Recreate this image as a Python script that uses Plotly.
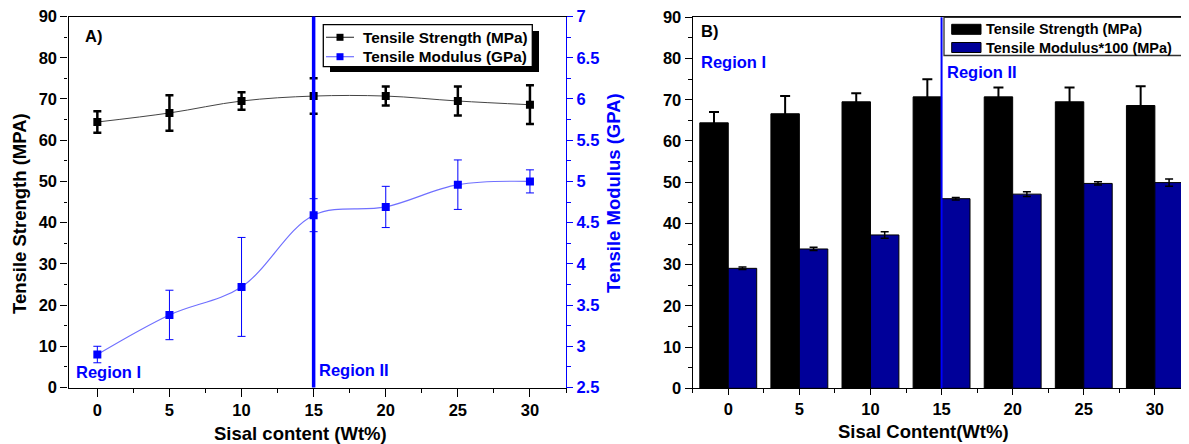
import plotly.graph_objects as go

# ---------------- data ----------------
sisal_wt = [0, 5, 10, 15, 20, 25, 30]
tensile_strength = [64.4, 66.6, 69.5, 70.7, 70.7, 69.5, 68.6]
tensile_strength_err = [2.6, 4.3, 2.1, 4.3, 2.3, 3.5, 4.7]
tensile_modulus_gpa = [2.90, 3.38, 3.72, 4.59, 4.69, 4.96, 5.00]
tensile_modulus_gpa_err = [0.10, 0.30, 0.60, 0.20, 0.25, 0.30, 0.14]
tensile_modulus_x100 = [29.1, 33.8, 37.2, 46.0, 47.1, 49.7, 49.9]
tensile_modulus_x100_err = [0.3, 0.4, 0.8, 0.3, 0.6, 0.4, 0.9]
region_boundary = 15

legend_a_labels = ["Tensile Strength (MPa)", "Tensile Modulus (GPa)"]
legend_b_labels = ["Tensile Strength (MPa)", "Tensile Modulus*100 (MPa)"]

W, H = 1189, 444
OFF = 8  # page body margin of the browser
FONT = "Liberation Sans, Arial, sans-serif"
BLUE = "#0000ff"
NAVY = "#000099"
LIGHTBLUE = "#7070ff"


def px(x):
    return (x - OFF) / W


def py(y):
    return 1 - (y - OFF) / H


fig = go.Figure()

# ---- panel A ----
fig.add_trace(go.Scatter(
    x=sisal_wt, y=tensile_strength, name=legend_a_labels[0],
    mode="lines+markers", xaxis="x", yaxis="y", showlegend=False,
    line=dict(color="#444444", width=1, shape="spline", smoothing=1),
    marker=dict(symbol="square", size=8, color="black"),
    error_y=dict(type="data", array=tensile_strength_err, color="black",
                 thickness=2.5, width=4),
))
fig.add_trace(go.Scatter(
    x=sisal_wt, y=tensile_modulus_gpa, name=legend_a_labels[1],
    mode="lines+markers", xaxis="x", yaxis="y2", showlegend=False,
    line=dict(color=LIGHTBLUE, width=1.2, shape="spline", smoothing=1),
    marker=dict(symbol="square", size=8, color=BLUE),
    error_y=dict(type="data", array=tensile_modulus_gpa_err, color=BLUE,
                 thickness=1, width=4),
))

# ---- panel B ----
fig.add_trace(go.Bar(
    x=sisal_wt, y=tensile_strength, name=legend_b_labels[0],
    xaxis="x2", yaxis="y3", showlegend=False, offset=-2, width=2,
    marker=dict(color="black", line=dict(color="black", width=1)),
    error_y=dict(type="data", array=tensile_strength_err, color="black",
                 thickness=2, width=5),
))
fig.add_trace(go.Bar(
    x=sisal_wt, y=tensile_modulus_x100, name=legend_b_labels[1],
    xaxis="x2", yaxis="y3", showlegend=False, offset=0, width=2,
    marker=dict(color=NAVY, line=dict(color="black", width=1)),
    error_y=dict(type="data", array=tensile_modulus_x100_err, color="black",
                 thickness=1.5, width=4),
))

tickfont = dict(family=FONT, size=16.5, color="black", weight="bold")
minor_black = dict(ticks="outside", tickcolor="black", tickwidth=1.2)

common_x = dict(showgrid=False, zeroline=False, showline=True, linecolor="black",
                linewidth=1.3, mirror=True, ticks="outside", tickcolor="black",
                tickwidth=1.3, tick0=0, dtick=5, tickfont=tickfont, automargin=False,
                ticklabeloverflow="allow")

fig.update_layout(
    width=W, height=H,
    margin=dict(l=0, r=0, t=0, b=0, pad=0, autoexpand=False),
    paper_bgcolor="white", plot_bgcolor="white", barmode="overlay",
    font=dict(family=FONT), showlegend=False,
    xaxis=dict(domain=[px(68.5), px(566)], range=[-2, 32.5], anchor="y",
               ticklen=8, minor=dict(dtick=2.5, tick0=0, ticklen=4, **minor_black),
               **common_x),
    yaxis=dict(domain=[py(387.5), py(16.5)], range=[0, 90], anchor="x",
               showgrid=False, zeroline=False, showline=True, linecolor="black",
               linewidth=1.3, ticks="outside", ticklen=7, tickwidth=1.3,
               tickcolor="black", dtick=10, tickfont=tickfont, automargin=False,
               ticklabeloverflow="allow",
               minor=dict(dtick=5, ticklen=3.5, **minor_black)),
    yaxis2=dict(overlaying="y", side="right", anchor="x", range=[2.5, 7],
                showgrid=False, zeroline=False, showline=True, linecolor=BLUE,
                linewidth=1.3, ticks="outside", ticklen=6, tickwidth=1.3,
                tickcolor=BLUE, dtick=0.5, automargin=False,
                ticklabeloverflow="allow",
                tickfont=dict(family=FONT, size=16.5, color=BLUE, weight="bold"),
                minor=dict(dtick=0.25, ticklen=3.5, ticks="outside",
                           tickcolor=BLUE, tickwidth=1.2)),
    xaxis2=dict(domain=[px(692.7), px(1189)], range=[-2.5, 32.4], anchor="y3",
                ticklen=6, minor=dict(dtick=2.5, tick0=0, ticklen=4, **minor_black),
                **common_x),
    yaxis3=dict(domain=[py(388.3), py(17.3)], range=[0, 90], anchor="x2",
                showgrid=False, zeroline=False, showline=True, linecolor="black",
                linewidth=1.3, mirror=True, ticks="outside", ticklen=7,
                tickwidth=1.3, tickcolor="black", dtick=10, tickfont=tickfont,
                automargin=False, ticklabeloverflow="allow",
                minor=dict(dtick=5, ticklen=3.5, **minor_black)),
)

# region boundary lines
fig.add_shape(type="line", xref="x", yref="y domain", x0=region_boundary,
              x1=region_boundary, y0=0, y1=1, line=dict(color=BLUE, width=3.5),
              layer="above")
fig.add_shape(type="line", xref="x2", yref="y3 domain", x0=region_boundary,
              x1=region_boundary, y0=0, y1=1, line=dict(color=BLUE, width=2),
              layer="above")


def rect(x0, y0, x1, y1, fill, line_color=None, lw=0):
    fig.add_shape(type="rect", xref="paper", yref="paper",
                  x0=px(x0), x1=px(x1), y0=py(y1), y1=py(y0), fillcolor=fill,
                  line=dict(color=line_color or fill, width=lw), layer="above")


def hline(x0, x1, y, color, lw):
    fig.add_shape(type="line", xref="paper", yref="paper",
                  x0=px(x0), x1=px(x1), y0=py(y), y1=py(y),
                  line=dict(color=color, width=lw), layer="above")


def ann(text, x, y, size=16.5, color="black", angle=0, xanchor="left"):
    fig.add_annotation(text=text, x=px(x), y=py(y), xref="paper", yref="paper",
                       showarrow=False, xanchor=xanchor, yanchor="middle",
                       textangle=angle, borderpad=0,
                       font=dict(family=FONT, size=size, color=color, weight="bold"))


# ---- legend A (boxed, with shadow) ----
rect(330, 31, 539, 72, "black")
rect(323.3, 24.7, 532.3, 66.7, "white", "black", 1.3)
for row_y, line_col, mk_col, label in [(37.3, "#444444", "black", legend_a_labels[0]),
                                       (56.7, LIGHTBLUE, BLUE, legend_a_labels[1])]:
    hline(326, 354, row_y, line_col, 1.2)
    rect(336.5, row_y - 3.5, 343.5, row_y + 3.5, mk_col)
    ann(label, 362, row_y, size=15.3)

# ---- legend B ----
rect(944, 17.3, 1183.3, 55.5, "white", "#333333", 1.3)
for row_y, fill, label in [(29.3, "black", legend_b_labels[0]),
                           (47.5, NAVY, legend_b_labels[1])]:
    rect(951.7, row_y - 5, 981, row_y + 5, fill, "black", 1)
    ann(label, 984.5, row_y, size=14.5)

ann("A)", 84, 36)
ann("B)", 700, 31)
ann("Region I", 75, 372, color=BLUE)
ann("Region II", 318, 370, color=BLUE)
ann("Region I", 700, 62, color=BLUE)
ann("Region II", 946, 72, color=BLUE)
ann("Tensile Strength (MPA)", 20, 214, size=18.5, angle=-90, xanchor="center")
ann("Tensile Modulus (GPA)", 613, 193, size=18.5, color=BLUE, angle=-90,
    xanchor="center")
ann("Sisal content (Wt%)", 300, 433, size=18.5, xanchor="center")
ann("Sisal Content(Wt%)", 923, 431, size=18.5, xanchor="center")

fig.write_html("out.html")
